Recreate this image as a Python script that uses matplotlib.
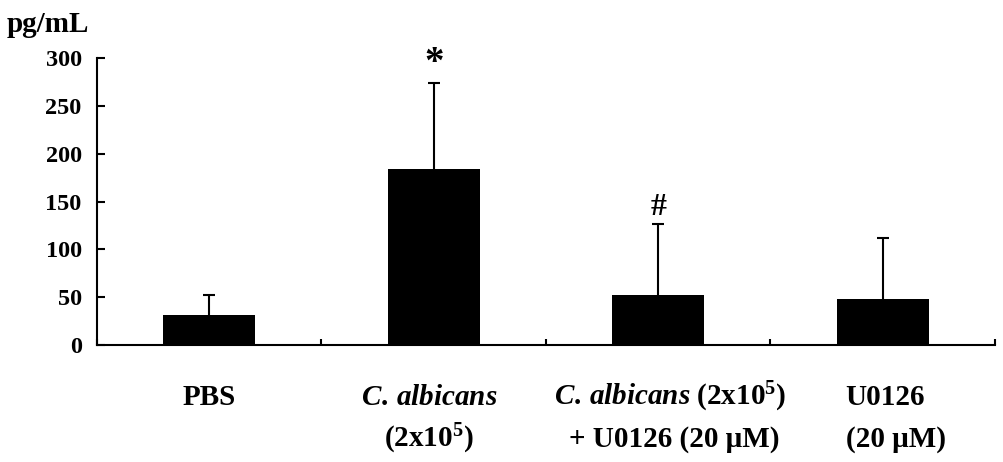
import matplotlib
matplotlib.use("Agg")
import matplotlib.pyplot as plt
import matplotlib.transforms as mtransforms
import numpy as np

# data
groups = ["PBS", "C. albicans", "C. albicans + U0126", "U0126"]
means = [31, 184, 52, 48]
sd_upper = [21, 90, 74, 64]
marks = ["", "*", "#", ""]

label_line1 = [
    "PBS",
    r"$\mathit{C.\,albicans}$",
    r"$\mathit{C.\,albicans}$ (2x10$^{\mathbf{5}}$)",
    "U0126",
]
label_line2 = [
    "",
    r"(2x10$^{\mathbf{5}}$)",
    "+ U0126 (20 \u03bcM)",
    "(20 \u03bcM)",
]
yticks = [0, 50, 100, 150, 200, 250, 300]

plt.rcParams["font.family"] = ["Liberation Serif", "DejaVu Serif"]
plt.rcParams["font.weight"] = "bold"
plt.rcParams["mathtext.fontset"] = "custom"
plt.rcParams["mathtext.rm"] = "Liberation Serif:bold"
plt.rcParams["mathtext.bf"] = "Liberation Serif:bold"
plt.rcParams["mathtext.it"] = "Liberation Serif:bold:italic"

fig = plt.figure(figsize=(10.04, 4.62), dpi=100)
ax = fig.add_axes([0.0966, 0.2532, 0.8944, 0.6213])

x = np.arange(len(groups))
ax.bar(x, means, width=0.41, color="black", zorder=3)
_, caps, _ = ax.errorbar(x, means, yerr=[np.zeros(len(means)), sd_upper],
                         fmt="none", ecolor="black", elinewidth=1.5,
                         capsize=4, capthick=1.5, zorder=2)
# only the upper cap is wanted
for c in caps:
    if np.allclose(c.get_ydata(), means):
        c.set_visible(False)

# significance marks above the error bars
for i, m in enumerate(marks):
    if not m:
        continue
    size = 28 if m == "*" else 23
    off = 7 if m == "*" else 6.5
    ax.annotate(m, (x[i], means[i] + sd_upper[i]), xytext=(0, off),
                textcoords="offset points", ha="center", va="baseline",
                fontsize=size, fontweight="bold", annotation_clip=False)

ax.set_xlim(-0.5, len(groups) - 0.5)
ax.set_ylim(0, 300)
ax.set_yticks(yticks)
ax.set_yticklabels([str(v) for v in yticks], fontsize=17.5, fontweight="bold")
ax.set_xticks(np.arange(len(groups) + 1) - 0.5)
ax.set_xticklabels([])

for s in ["top", "right"]:
    ax.spines[s].set_visible(False)
for s in ["left", "bottom"]:
    ax.spines[s].set_linewidth(1.5)
ax.tick_params(axis="y", direction="in", length=6, width=1.5, pad=11)
ax.tick_params(axis="x", direction="in", length=4.5, width=1.5)

# category labels, two lines each
trans = mtransforms.blended_transform_factory(ax.transData, ax.transAxes)
dx = [0.0, -0.02, 0.055, -0.165]
aligns = ["center", "center", "center", "left"]
for i in range(len(groups)):
    ax.text(x[i] + dx[i], -0.209, label_line1[i], transform=trans,
            ha=aligns[i], va="baseline", fontsize=21, fontweight="bold")
    if label_line2[i]:
        ax.text(x[i] + dx[i] + (0.015 if i == 2 else 0), -0.355, label_line2[i],
                transform=trans, ha=aligns[i], va="baseline", fontsize=21,
                fontweight="bold")

fig.text(0.007, 1 - 32 / 462, "pg/mL", ha="left", va="baseline",
         fontsize=21, fontweight="bold")

fig.savefig("out.png", dpi=100, facecolor="white")
